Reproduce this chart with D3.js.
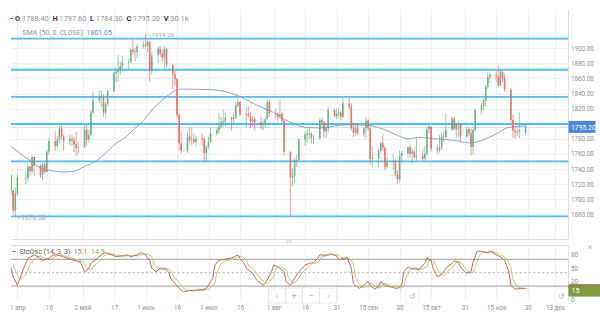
<!DOCTYPE html>
<html>
<head>
<meta charset="utf-8">
<title>XAU D1</title>
<script src="https://cdn.jsdelivr.net/npm/d3@7/dist/d3.min.js"></script>
<style>
  body { margin: 0; background: #fff; }
  svg text { font-family: Roboto, "Noto Sans", sans-serif; }
</style>
</head>
<body>
<div id="container"></div>
<script>
var width = 600;
var height = 318;

// trading days (weekdays only)
var firstDay = "2021-03-29";
var lastDay = "2021-11-29";
var holidays = ["2021-04-02"];

// OHLC, one value per trading day
var opens = [1732,1712,1685,1708,
  1728,1728,1743,1737,1756, 1744,1732,1746,1736,1763, 1777,1770,1779,1794,1783, 1777,1780,1778,1773,1768,
  1769,1792,1779,1785,1815, 1831,1836,1836,1815,1826, 1843,1867,1869,1870,1876, 1881,1882,1898,1896,1895,
  1903,1905,1903,1908,1870, 1891,1899,1893,1888,1899, 1877,1866,1859,1812,1774, 1764,1783,1778,1779,1776,
  1781,1779,1761,1770,1776, 1787,1792,1796,1803,1803, 1808,1806,1808,1825,1829, 1812,1813,1810,1803,1806,
  1802,1798,1799,1806,1829, 1814,1813,1810,1813,1804, 1763,1729,1731,1752,1752, 1779,1786,1786,1787,1781,
  1781,1805,1802,1790,1794, 1818,1810,1813,1815,1809, 1827,1823,1794,1788,1794, 1787,1794,1804,1794,1753,
  1754,1764,1774,1768,1743, 1750,1751,1733,1726,1757, 1761,1769,1760,1763,1756, 1757,1754,1760,1793,1796,
  1767,1765,1769,1783,1782, 1792,1807,1793,1798,1799, 1783,1793,1788,1769,1792, 1818,1824,1831,1849,1862,
  1865,1863,1851,1869,1860, 1845,1805,1791,1789,1789, 1788.4];
var highs = [1733,1713,1716,1733,
  1738,1746,1745,1758,1756, 1746,1748,1750,1766,1781, 1790,1784,1797,1798,1785, 1786,1785,1783,1790,1776,
  1798,1799,1792,1818,1843, 1845,1844,1839,1829,1845, 1869,1874,1891,1883,1890, 1886,1900,1913,1901,1906,
  1910,1919.2,1910,1910,1895, 1903,1903,1898,1903,1900, 1879,1870,1861,1814,1790, 1790,1795,1795,1787,1784,
  1787,1782,1772,1783,1795, 1795,1815,1809,1818,1815, 1809,1816,1828,1834,1830, 1823,1823,1816,1810,1809,
  1810,1806,1810,1832,1832, 1820,1815,1832,1816,1805, 1763,1741,1755,1759,1781, 1790,1795,1794,1789,1785,
  1807,1808,1804,1800,1823, 1820,1820,1822,1817,1834, 1834,1827,1802,1800,1800, 1795,1808,1806,1796,1769,
  1767,1776,1787,1770,1756, 1759,1754,1738,1765,1764, 1770,1772,1767,1765,1781, 1766,1770,1796,1800,1797,
  1772,1785,1788,1790,1814, 1810,1810,1800,1804,1801, 1796,1795,1794,1796,1820, 1828,1834,1852,1868,1869,
  1871,1878,1872,1870,1866, 1847,1812,1796,1795,1815, 1797.6];
var lows = [1705,1680,1676.5,1705,
  1720,1723,1732,1735,1731, 1728,1725,1734,1736,1759, 1764,1766,1774,1779,1764, 1771,1770,1762,1757,1760,
  1768,1771,1775,1784,1813, 1827,1822,1809,1808,1823, 1842,1855,1856,1865,1870, 1872,1880,1891,1883,1887,
  1899,1898,1895,1856,1865, 1881,1889,1882,1872,1874, 1845,1850,1808,1766,1761, 1761,1774,1772,1773,1769,
  1771,1750,1750,1766,1775, 1784,1787,1793,1795,1797, 1791,1799,1806,1822,1810, 1795,1808,1794,1797,1791,
  1793,1791,1795,1806,1809, 1807,1803,1807,1801,1757, 1678,1717,1722,1743,1751, 1771,1775,1780,1774,1773,
  1779,1795,1781,1781,1788, 1808,1806,1807,1805,1808, 1819,1791,1782,1784,1785, 1783,1781,1791,1745,1742,
  1742,1760,1763,1739,1741, 1739,1729,1721,1722,1748, 1755,1755,1746,1753,1751, 1750,1750,1758,1787,1763,
  1760,1762,1765,1776,1782, 1791,1790,1782,1781,1777, 1781,1784,1758,1760,1790, 1813,1818,1823,1846,1854,
  1855,1848,1850,1855,1843, 1800,1781,1780,1784,1781, 1784.3];
var closes = [1712,1685,1708,1728,
  1728,1743,1737,1756,1744, 1732,1746,1736,1763,1777, 1770,1779,1794,1783,1777, 1780,1778,1773,1768,1769,
  1792,1779,1785,1815,1831, 1836,1836,1815,1826,1843, 1867,1869,1870,1876,1881, 1882,1898,1896,1895,1903,
  1905,1903,1908,1870,1891, 1899,1893,1888,1899,1877, 1866,1859,1812,1774,1764, 1783,1778,1779,1776,1781,
  1779,1761,1770,1776,1787, 1792,1796,1803,1803,1808, 1806,1808,1825,1829,1812, 1813,1810,1803,1806,1802,
  1798,1799,1806,1829,1814, 1813,1810,1813,1804,1763, 1729,1731,1752,1752,1779, 1786,1786,1787,1781,1781,
  1805,1802,1790,1794,1818, 1810,1813,1815,1809,1827, 1823,1794,1788,1794,1787, 1794,1804,1794,1753,1754,
  1764,1774,1768,1743,1750, 1751,1733,1726,1757,1761, 1769,1760,1763,1756,1757, 1754,1760,1793,1796,1767,
  1765,1769,1783,1782,1792, 1807,1793,1798,1799,1783, 1793,1788,1769,1792,1818, 1824,1831,1849,1862,1865,
  1863,1851,1869,1860,1845, 1805,1791,1789,1789,1792, 1795.2];

// SMA(50)
var smaDays = ["2021-03-29","2021-04-02","2021-04-07","2021-04-12","2021-04-17","2021-04-23","2021-04-28",
  "2021-05-03","2021-05-08","2021-05-13","2021-05-17","2021-05-22","2021-05-27","2021-05-30","2021-06-05",
  "2021-06-11","2021-06-16","2021-06-19","2021-07-03","2021-07-10","2021-07-16","2021-07-22","2021-07-29",
  "2021-08-01","2021-08-05","2021-08-10","2021-08-16","2021-08-24","2021-09-01","2021-09-07","2021-09-15",
  "2021-09-23","2021-09-30","2021-10-04","2021-10-09","2021-10-18","2021-10-26","2021-11-03","2021-11-09",
  "2021-11-15","2021-11-20","2021-11-25","2021-11-29"];
var smaValues = [1770,1761,1751,1741.5,1738,1736,1737,
  1743.6,1750,1761,1772,1781,1794,1801,1821,
  1836,1845,1846,1845,1842,1836,1827.5,1818.6,
  1815,1807.6,1801,1795.3,1794.4,1798,1798.8,1798,
  1792,1783.4,1780,1782,1780,1778,1774.5,1779,
  1786.4,1794.4,1796.6,1797.4];

// stochastic (14,3,3)
var stochDays = ["2021-03-29","2021-03-30","2021-04-01","2021-04-04","2021-04-06","2021-04-09","2021-04-11",
  "2021-04-13","2021-04-16","2021-04-18","2021-04-20","2021-04-23","2021-04-25","2021-04-28","2021-05-01",
  "2021-05-03","2021-05-05","2021-05-06","2021-05-09","2021-05-11","2021-05-13","2021-05-16","2021-05-18",
  "2021-05-21","2021-05-23","2021-05-25","2021-05-28","2021-05-30","2021-06-01","2021-06-03","2021-06-04",
  "2021-06-06","2021-06-08","2021-06-10","2021-06-12","2021-06-13","2021-06-15","2021-06-17","2021-06-19",
  "2021-06-22","2021-06-25","2021-06-28","2021-06-30","2021-07-03","2021-07-04","2021-07-06","2021-07-09",
  "2021-07-12","2021-07-15","2021-07-16","2021-07-18","2021-07-19","2021-07-22","2021-07-24","2021-07-27",
  "2021-07-28","2021-07-31","2021-08-01","2021-08-03","2021-08-04","2021-08-06","2021-08-07","2021-08-09",
  "2021-08-10","2021-08-12","2021-08-13","2021-08-16","2021-08-18","2021-08-20","2021-08-22","2021-08-23",
  "2021-08-26","2021-08-28","2021-08-31","2021-09-01","2021-09-04","2021-09-05","2021-09-07","2021-09-08",
  "2021-09-10","2021-09-11","2021-09-13","2021-09-15","2021-09-16","2021-09-18","2021-09-20","2021-09-21",
  "2021-09-23","2021-09-25","2021-09-28","2021-09-29","2021-10-01","2021-10-02","2021-10-04","2021-10-05",
  "2021-10-08","2021-10-09","2021-10-12","2021-10-13","2021-10-15","2021-10-16","2021-10-18","2021-10-20",
  "2021-10-22","2021-10-25","2021-10-26","2021-10-28","2021-10-29","2021-10-31","2021-11-01","2021-11-03",
  "2021-11-04","2021-11-06","2021-11-08","2021-11-11","2021-11-12","2021-11-15","2021-11-17","2021-11-19",
  "2021-11-21","2021-11-22","2021-11-24","2021-11-27","2021-11-29"];
var stochK = [60,41,22,60,82,90,85, 78,82,90,90,85,82,78,74, 52,60,71,82,90,95,90,86, 88,90,86,90,95,90,78,60,
  52,60,60,52,37,26,15,7, 10,11,12,15,37,67,78,80, 83,90,82,71,60,49,33,22, 26,52,67,63,60,52,30,22,
  30,45,52,67,71,73,82,90, 89,93,87,80,82,85,60,26, 17,15,22,30,22,13,19,30, 22,19,15,15,22,52,63,60,
  58,56,71,83,78,60,41,46, 60,71,76,74,63,52,49,52, 74,99,97,95,99,90,86,78, 52,22,13,15,15.1];
var stochD = [70,55,35,45,68,84,88, 82,80,86,90,87,84,80,76, 62,56,63,75,86,92,92,88, 87,89,88,88,92,92,85,70,
  58,56,60,56,45,33,22,11, 9,10,11,13,25,50,70,78, 81,87,86,78,67,55,40,28, 25,40,58,64,62,56,40,28,
  27,38,47,60,69,72,78,86, 89,91,90,84,81,83,72,40, 22,17,18,26,25,17,16,24, 25,21,17,15,18,38,56,61,
  59,57,64,77,80,68,50,43, 53,66,73,75,68,57,50,50, 63,88,97,96,97,93,88,81, 63,35,18,14,14.9];

// support / resistance levels drawn on the chart
var levels = [1912.7, 1871.6, 1835.5, 1799.7, 1750.2, 1677.3];
var lastPrice = 1795.20;

// tick labels (1800.00 sits under the last price tag)
var priceTicks = [1680,1700,1720,1740,1760,1780,1820,1840,1860,1880,1900];
var gridTicks = [1680,1700,1720,1740,1760,1780,1800,1820,1840,1860,1880,1900];
var stochTicks = [0,20,50,80];
var dateTicks = ["2021-04-01","2021-04-16","2021-05-02","2021-05-17","2021-06-01","2021-06-16","2021-07-01",
  "2021-07-16","2021-08-01","2021-08-16","2021-08-31","2021-09-15","2021-09-30","2021-10-15","2021-10-31",
  "2021-11-15","2021-11-30","2021-12-13"];
var dateLabels = ["1 апр","16","2 май","17","1 июн","16","1 июл","16","1 авг","16","31","15 сен","30","15 окт",
  "31","15 ноя","30","13 дек"];

var upColor = "#63a980";
var downColor = "#e8675a";
var levelColor = "#55bdee";
var gridColor = "#eef1f4";
var frameColor = "#d9dfe6";
var textColor = "#8b9097";

var left = 11, right = 568;
var mainTop = 10, mainBottom = 239;
var stochTop = 245.5, stochBottom = 301;

var parseDay = d3.timeParse("%Y-%m-%d");
var fmtDay = d3.timeFormat("%Y-%m-%d");

var x = d3.scaleTime()
  .domain([parseDay("2021-04-01"), parseDay("2021-12-13")])
  .range([17.4, 555]);
var yPrice = d3.scaleLinear().domain([1680, 1900]).range([214.3, 48.3]);
var yStoch = d3.scaleLinear().domain([0, 100]).range([295, 250.4]);

var tradingDays = d3.timeDay.range(parseDay(firstDay), d3.timeDay.offset(parseDay(lastDay), 1))
  .filter(function(d) {
    var w = d.getDay();
    return w > 0 && w < 6 && holidays.indexOf(fmtDay(d)) < 0;
  });
var candles = tradingDays.map(function(d, i) {
  return {date: d, o: opens[i], h: highs[i], l: lows[i], c: closes[i]};
});

var svg = d3.select("#container").append("svg")
  .attr("width", width)
  .attr("height", height)
  .style("display", "block");

var defs = svg.append("defs");
defs.append("clipPath").attr("id", "clipMain").append("rect")
  .attr("x", left).attr("y", mainTop).attr("width", right - left).attr("height", mainBottom - mainTop);
defs.append("clipPath").attr("id", "clipStoch").append("rect")
  .attr("x", left).attr("y", stochTop).attr("width", right - left).attr("height", stochBottom - stochTop);

// grid + frames
var createGrid = function() {
  var g = svg.append("g");
  dateTicks.forEach(function(t) {
    var xx = Math.round(x(parseDay(t))) + 0.5;
    if (xx > right) return;
    g.append("line").attr("x1", xx).attr("x2", xx).attr("y1", mainTop).attr("y2", mainBottom)
      .attr("stroke", gridColor);
    g.append("line").attr("x1", xx).attr("x2", xx).attr("y1", stochTop).attr("y2", stochBottom)
      .attr("stroke", gridColor);
  });
  gridTicks.forEach(function(p) {
    var yy = Math.round(yPrice(p)) + 0.5;
    g.append("line").attr("x1", left).attr("x2", right).attr("y1", yy).attr("y2", yy)
      .attr("stroke", gridColor);
  });
  // frames
  g.append("line").attr("x1", right + 0.5).attr("x2", right + 0.5).attr("y1", mainTop).attr("y2", mainBottom)
    .attr("stroke", frameColor);
  g.append("line").attr("x1", left).attr("x2", right).attr("y1", mainBottom + 0.5).attr("y2", mainBottom + 0.5)
    .attr("stroke", frameColor);
  g.append("line").attr("x1", left).attr("x2", right).attr("y1", stochTop).attr("y2", stochTop)
    .attr("stroke", frameColor);
  g.append("line").attr("x1", right + 0.5).attr("x2", right + 0.5).attr("y1", stochTop).attr("y2", stochBottom)
    .attr("stroke", frameColor);
  // panel splitter handle
  g.append("rect").attr("x", 286).attr("y", 240).attr("width", 6).attr("height", 3.5)
    .attr("fill", "#e3e7ec");
};

// horizontal levels
var createLevels = function() {
  var g = svg.append("g").attr("clip-path", "url(#clipMain)");
  g.append("line").attr("x1", left).attr("x2", right)
    .attr("y1", yPrice(lastPrice)).attr("y2", yPrice(lastPrice))
    .attr("stroke", "#c9e4f6").attr("stroke-width", 1);
  g.selectAll(".level").data(levels).enter().append("line")
    .attr("class", "level")
    .attr("x1", left).attr("x2", right)
    .attr("y1", function(d) { return yPrice(d); })
    .attr("y2", function(d) { return yPrice(d); })
    .attr("stroke", levelColor).attr("stroke-width", 1.8);
};

// candles
var createCandles = function() {
  var g = svg.append("g").attr("clip-path", "url(#clipMain)");
  var bars = g.selectAll(".candle").data(candles).enter().append("g")
    .attr("class", "candle")
    .attr("opacity", 0.9);
  bars.append("line")
    .attr("x1", function(d) { return x(d.date); })
    .attr("x2", function(d) { return x(d.date); })
    .attr("y1", function(d) { return yPrice(d.h); })
    .attr("y2", function(d) { return yPrice(d.l); })
    .attr("stroke", function(d) { return d.c >= d.o ? upColor : downColor; })
    .attr("stroke-width", 0.7);
  bars.append("rect")
    .attr("x", function(d) { return x(d.date) - 0.8; })
    .attr("width", 1.6)
    .attr("y", function(d) { return yPrice(Math.max(d.o, d.c)); })
    .attr("height", function(d) { return Math.max(0.8, Math.abs(yPrice(d.o) - yPrice(d.c))); })
    .attr("fill", function(d) { return d.c >= d.o ? upColor : downColor; });
};

// SMA line
var createSma = function() {
  var pts = smaDays.map(function(d, i) { return [parseDay(d), smaValues[i]]; });
  var line = d3.line()
    .x(function(d) { return x(d[0]); })
    .y(function(d) { return yPrice(d[1]); })
    .curve(d3.curveMonotoneX);
  svg.append("path").attr("clip-path", "url(#clipMain)")
    .attr("d", line(pts))
    .attr("fill", "none").attr("stroke", "#8ea2cd").attr("stroke-width", 1);
};

// price axis
var createPriceAxis = function() {
  var ax = svg.append("g").attr("transform", "translate(" + right + ",0)")
    .call(d3.axisRight(yPrice).tickValues(priceTicks).tickSize(0).tickPadding(3)
      .tickFormat(d3.format(".2f")));
  ax.select(".domain").remove();
  ax.selectAll("text").attr("fill", textColor).style("font-size", "6.3px");

  // last price tag
  svg.append("rect").attr("x", right + 0.5).attr("y", yPrice(lastPrice) - 6.5)
    .attr("width", 27).attr("height", 12).attr("fill", "#4a87d6");
  svg.append("text").attr("x", right + 3).attr("y", yPrice(lastPrice) + 2.3)
    .attr("fill", "#fff").style("font-size", "6.8px").text(d3.format(".2f")(lastPrice));
};

// min / max markers
var createMarkers = function() {
  var hi = d3.max(highs), lo = d3.min(lows);
  var hiDay = candles[highs.indexOf(hi)].date, loDay = candles[lows.indexOf(lo)].date;
  var g = svg.append("g").attr("fill", "#9aa0a6").style("font-size", "6.2px");
  g.append("line").attr("x1", x(hiDay) + 2).attr("x2", x(hiDay) + 5)
    .attr("y1", yPrice(hi) + 1).attr("y2", yPrice(hi) + 1).attr("stroke", "#9aa0a6").attr("stroke-width", 0.7);
  g.append("text").attr("x", x(hiDay) + 6).attr("y", yPrice(hi) + 3).text(d3.format(".2f")(hi));
  g.append("line").attr("x1", x(loDay) + 2).attr("x2", x(loDay) + 5)
    .attr("y1", yPrice(lo) + 1).attr("y2", yPrice(lo) + 1).attr("stroke", "#9aa0a6").attr("stroke-width", 0.7);
  g.append("text").attr("x", x(loDay) + 6).attr("y", yPrice(lo) + 3.2).style("font-size", "6.6px")
    .text(d3.format(".2f")(lo));
};

// stochastic panel
var createStoch = function() {
  var g = svg.append("g");
  [80, 20].forEach(function(v) {
    g.append("line").attr("x1", left).attr("x2", right).attr("y1", yStoch(v)).attr("y2", yStoch(v))
      .attr("stroke", "#8c8f93").attr("stroke-width", 0.9);
  });
  g.append("line").attr("x1", left).attr("x2", right).attr("y1", yStoch(50)).attr("y2", yStoch(50))
    .attr("stroke", "#a9adb2").attr("stroke-width", 0.8).attr("stroke-dasharray", "2.5,2");

  var kPts = stochDays.map(function(d, i) { return [parseDay(d), stochK[i]]; });
  var dPts = stochDays.map(function(d, i) { return [d3.timeDay.offset(parseDay(d), 1), stochD[i]]; });
  var line = d3.line()
    .x(function(d) { return x(d[0]); })
    .y(function(d) { return yStoch(d[1]); });
  var lg = svg.append("g").attr("clip-path", "url(#clipStoch)").attr("fill", "none");
  lg.append("path").attr("d", line(dPts)).attr("stroke", "#b3cb86").attr("stroke-width", 1);
  lg.append("path").attr("d", line(kPts)).attr("stroke", "#c9685a").attr("stroke-width", 1);

  var ax = svg.append("g").attr("transform", "translate(" + right + ",-4.5)")
    .call(d3.axisRight(yStoch).tickValues(stochTicks).tickSize(0).tickPadding(3));
  ax.select(".domain").remove();
  ax.selectAll("text").attr("fill", textColor).style("font-size", "6.3px");
  // the 0 label sits just under the value tag
  ax.selectAll(".tick").filter(function(d) { return d === 0; }).select("text").attr("dy", "1.75em");

  // value tags
  svg.append("rect").attr("x", right + 0.5).attr("y", 284.3).attr("width", 32).attr("height", 12)
    .attr("fill", "#b5483c");
  svg.append("rect").attr("x", right + 0.5).attr("y", 285.3).attr("width", 32).attr("height", 11)
    .attr("fill", "#7c9c3d");
  svg.append("text").attr("x", right + 3.5).attr("y", 293.3).attr("fill", "#fff")
    .style("font-size", "7px").text(Math.round(stochD[stochD.length - 1]));
  svg.append("text").attr("x", 590).attr("y", 250).attr("fill", "#b4b9bf")
    .style("font-size", "9px").attr("text-anchor", "middle").text("×");
};

// date axis
var createDateAxis = function() {
  var ax = svg.append("g").attr("transform", "translate(0,302)")
    .call(d3.axisBottom(x).tickValues(dateTicks.map(parseDay)).tickSize(0).tickPadding(3.4)
      .tickFormat(function(d, i) { return dateLabels[i]; }));
  ax.select(".domain").remove();
  ax.selectAll("text").attr("fill", textColor).style("font-size", "6.3px");
};

// navigation buttons
var createButtons = function() {
  var g = svg.append("g").style("font-size", "9px").attr("text-anchor", "middle");
  var labels = ["‹", "+", "−", "›"];
  labels.forEach(function(t, i) {
    var bx = 268.5 + i * 17;
    g.append("rect").attr("x", bx).attr("y", 288).attr("width", 17).attr("height", 15)
      .attr("fill", "#fff").attr("stroke", "#e1e5ea").attr("stroke-width", 0.8);
    g.append("text").attr("x", bx + 8.5).attr("y", 299).attr("fill", "#b2b8bf").text(t);
  });
  [406, 555].forEach(function(bx) {
    g.append("rect").attr("x", bx).attr("y", 288).attr("width", 13).attr("height", 15)
      .attr("fill", "#fff").attr("stroke", "#e8ebef").attr("stroke-width", 0.6);
    g.append("text").attr("x", bx + 6.5).attr("y", 298.5).attr("fill", "#b2b8bf")
      .style("font-size", "8px").text("↺");
  });
};

// legend rows
var createLegend = function() {
  var t = svg.append("text").attr("x", 9).attr("y", 21).style("font-size", "7.4px")
    .attr("xml:space", "preserve");
  var head = [["− ", "#555", "bold"], ["O ", "#333", "bold"], ["1788.40  ", textColor, "normal"],
    ["H ", "#333", "bold"], ["1797.60  ", textColor, "normal"], ["L ", "#333", "bold"],
    ["1784.30  ", textColor, "normal"], ["C ", "#333", "bold"], ["1795.20  ", textColor, "normal"],
    ["V ", "#333", "bold"], ["30.1k", textColor, "normal"]];
  head.forEach(function(h) {
    t.append("tspan").attr("fill", h[1]).attr("font-weight", h[2]).text(h[0]);
  });

  var s = svg.append("text").attr("x", 22.5).attr("y", 35).style("font-size", "7px")
    .attr("xml:space", "preserve");
  s.append("tspan").attr("fill", textColor).text("SMA (50, 0, CLOSE)  ");
  s.append("tspan").attr("fill", "#4a87d6").text("1801.05");

  var k = svg.append("text").attr("x", 12).attr("y", 253.5).style("font-size", "7px")
    .attr("xml:space", "preserve");
  k.append("tspan").attr("fill", "#555").attr("font-weight", "bold").text("−  ");
  k.append("tspan").attr("fill", "#666").text("StoOsc (14, 3, 3)  ");
  k.append("tspan").attr("fill", "#c9685a").text(stochK[stochK.length - 1] + "  ");
  k.append("tspan").attr("fill", "#8fb04f").text(stochD[stochD.length - 1]);
};

createGrid();
createLevels();
createSma();
createCandles();
createMarkers();
createPriceAxis();
createStoch();
createDateAxis();
createButtons();
createLegend();
</script>
</body>
</html>
